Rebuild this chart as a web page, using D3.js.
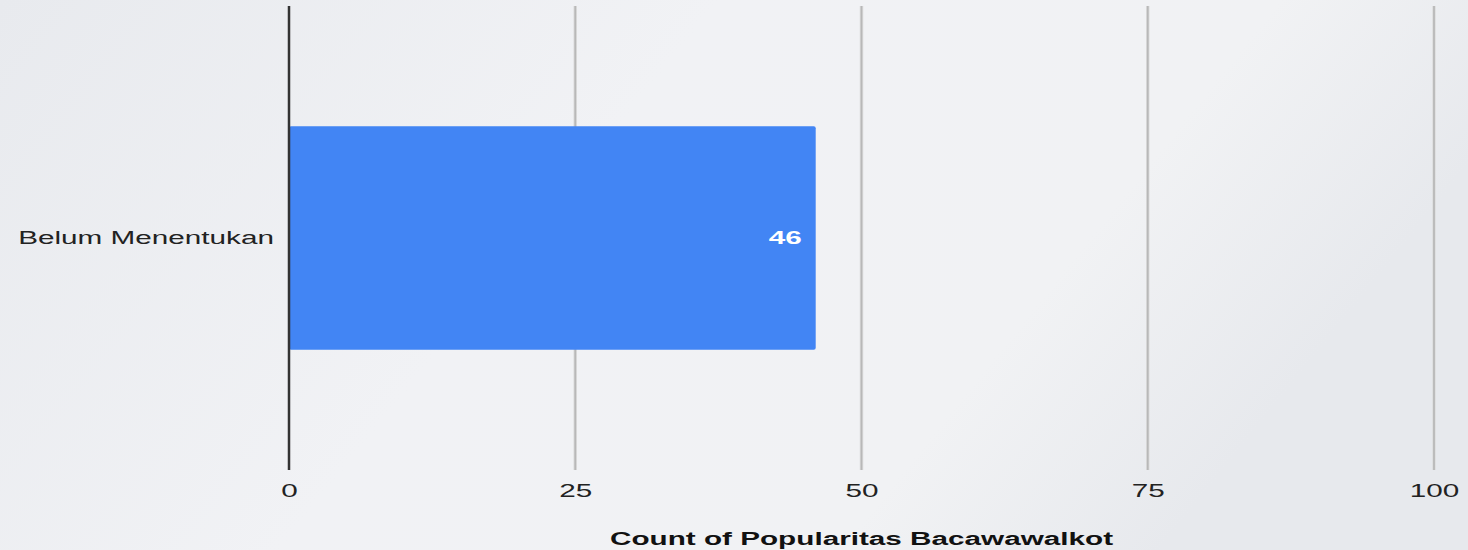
<!DOCTYPE html>
<html>
<head>
<meta charset="utf-8">
<script src="https://cdn.jsdelivr.net/npm/d3@7"></script>
<style>
  html, body { margin: 0; padding: 0; background: #eef0f3; }
  svg { display: block; }
  text { font-family: "Liberation Sans", Arial, sans-serif; }
</style>
</head>
<body>
<svg id="chart" width="1468" height="550"></svg>
<script>
const categories = ["Belum Menentukan"];
const counts = [46];
const tickValues = [0, 25, 50, 75, 100];
const axisTitle = "Count of Popularitas Bacawawalkot";

const W = 1468, H = 550;
const margin = { left: 289, right: 34, top: 6, bottom: 80 };
const SX = 1.65; // horizontal text stretch seen in the reference

const svg = d3.select("#chart");
const defs = svg.append("defs");
const grad = defs.append("linearGradient").attr("id", "bg").attr("x1", "0").attr("y1", "0").attr("x2", "1").attr("y2", "0.3");
grad.append("stop").attr("offset", "0").attr("stop-color", "#e8eaee");
grad.append("stop").attr("offset", "0.45").attr("stop-color", "#f1f2f5");
grad.append("stop").attr("offset", "0.8").attr("stop-color", "#f1f2f4");
grad.append("stop").attr("offset", "1").attr("stop-color", "#e7e9ed");
svg.append("rect").attr("width", W).attr("height", H).attr("fill", "url(#bg)");

const x = d3.scaleLinear().domain([0, 100]).range([margin.left, W - margin.right]);
const y = d3.scaleBand().domain(categories).range([margin.top, H - margin.bottom]).padding(0.35);

// grid lines
svg.append("g").selectAll("line").data(tickValues.filter(d => d !== 0)).join("line")
  .attr("x1", d => x(d)).attr("x2", d => x(d))
  .attr("y1", margin.top).attr("y2", H - margin.bottom)
  .attr("stroke", "#dcdcdc").attr("stroke-width", 3.5);
svg.append("g").selectAll("line").data(tickValues.filter(d => d !== 0)).join("line")
  .attr("x1", d => x(d)).attr("x2", d => x(d))
  .attr("y1", margin.top).attr("y2", H - margin.bottom)
  .attr("stroke", "#b8b8b8").attr("stroke-width", 1.8);

// bars
svg.append("g").selectAll("rect").data(categories).join("rect")
  .attr("x", x(0))
  .attr("y", d => y(d))
  .attr("width", (d, i) => x(counts[i]) - x(0))
  .attr("height", y.bandwidth())
  .attr("rx", 2)
  .attr("fill", "#4285f4");

// value labels
svg.append("g").selectAll("text").data(categories).join("text")
  .attr("transform", (d, i) => `translate(${x(counts[i]) - 14},${y(d) + y.bandwidth() / 2 + 6}) scale(${SX},1)`)
  .attr("text-anchor", "end")
  .attr("font-size", 18).attr("font-weight", "bold").attr("fill", "#ffffff")
  .text((d, i) => counts[i]);

// zero axis line
svg.append("line")
  .attr("x1", x(0)).attr("x2", x(0))
  .attr("y1", margin.top).attr("y2", H - margin.bottom)
  .attr("stroke", "#333333").attr("stroke-width", 2.5);

// x axis tick labels
const xAxis = d3.axisBottom(x).tickValues(tickValues).tickSize(0).tickPadding(0);
const gx = svg.append("g").attr("transform", `translate(0,${H - margin.bottom})`).call(xAxis);
gx.select(".domain").remove();
gx.selectAll("text")
  .attr("y", 0).attr("dy", 0)
  .attr("transform", `translate(0,27) scale(${SX},1)`)
  .attr("font-size", 18).attr("fill", "#222222")
  .attr("font-family", "Liberation Sans, Arial, sans-serif");

// y axis labels
const yAxis = d3.axisLeft(y).tickSize(0).tickPadding(0);
const gy = svg.append("g").attr("transform", `translate(${x(0) - 15},0)`).call(yAxis);
gy.select(".domain").remove();
gy.selectAll("text")
  .attr("x", 0).attr("dy", 0)
  .attr("transform", `translate(0,6) scale(${SX},1)`)
  .attr("text-anchor", "end")
  .attr("font-size", 18).attr("fill", "#222222")
  .attr("font-family", "Liberation Sans, Arial, sans-serif");

// axis title
svg.append("text")
  .attr("transform", `translate(${(x(0) + x(100)) / 2},545) scale(${SX},1)`)
  .attr("text-anchor", "middle")
  .attr("font-size", 18).attr("font-weight", "bold").attr("fill", "#111111")
  .text(axisTitle);
</script>
</body>
</html>
